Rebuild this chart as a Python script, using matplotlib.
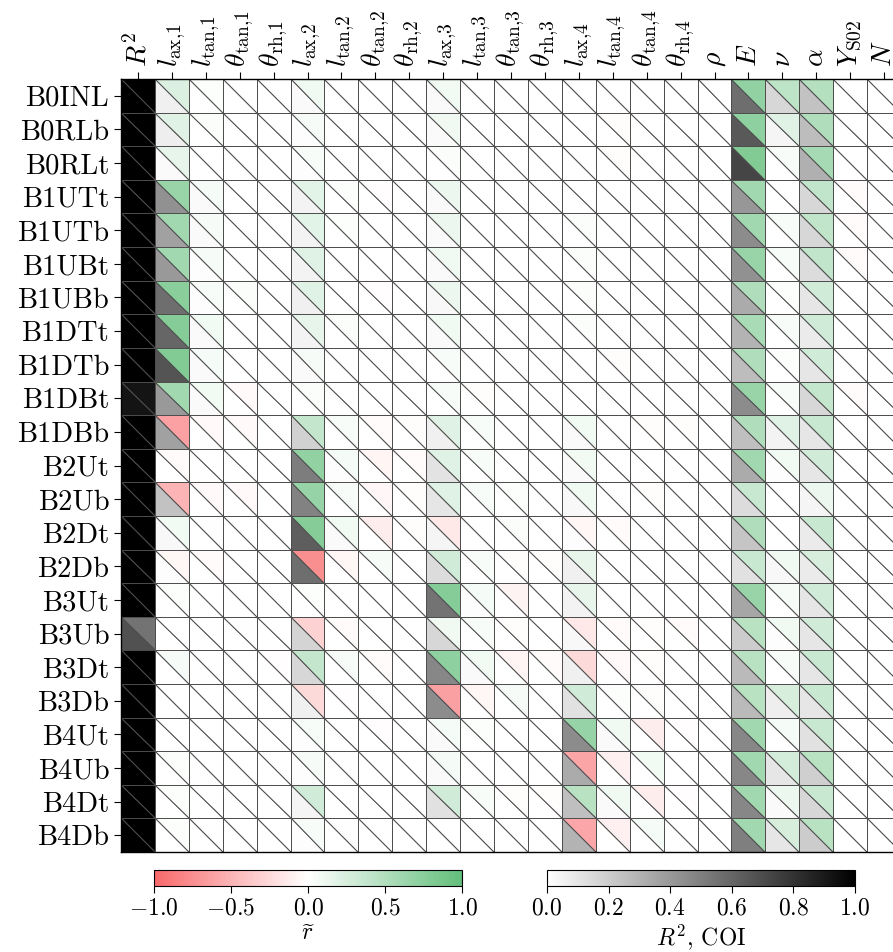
import numpy as np
import matplotlib
matplotlib.use('Agg')
import matplotlib.pyplot as plt
from matplotlib.collections import PolyCollection
from matplotlib.colors import LinearSegmentedColormap, Normalize
from matplotlib.cm import ScalarMappable

plt.rcParams['font.family'] = 'cmr10'
plt.rcParams['mathtext.fontset'] = 'cm'
plt.rcParams['axes.formatter.use_mathtext'] = True

rows = ['B0INL', 'B0RLb', 'B0RLt', 'B1UTt', 'B1UTb', 'B1UBt', 'B1UBb', 'B1DTt',
        'B1DTb', 'B1DBt', 'B1DBb', 'B2Ut', 'B2Ub', 'B2Dt', 'B2Db', 'B3Ut', 'B3Ub',
        'B3Dt', 'B3Db', 'B4Ut', 'B4Ub', 'B4Dt', 'B4Db']

cols = [r'$R^2$',
        r'$l_\mathrm{ax{,}1}$', r'$l_\mathrm{tan{,}1}$', r'$\theta_\mathrm{tan{,}1}$', r'$\theta_\mathrm{rh{,}1}$',
        r'$l_\mathrm{ax{,}2}$', r'$l_\mathrm{tan{,}2}$', r'$\theta_\mathrm{tan{,}2}$', r'$\theta_\mathrm{rh{,}2}$',
        r'$l_\mathrm{ax{,}3}$', r'$l_\mathrm{tan{,}3}$', r'$\theta_\mathrm{tan{,}3}$', r'$\theta_\mathrm{rh{,}3}$',
        r'$l_\mathrm{ax{,}4}$', r'$l_\mathrm{tan{,}4}$', r'$\theta_\mathrm{tan{,}4}$', r'$\theta_\mathrm{rh{,}4}$',
        r'$\rho$', r'$E$', r'$\nu$', r'$\alpha$', r'$Y_\mathrm{S02}$', r'$N$']

# R^2 column (upper / lower triangle)
r2_upper = [1, 1, 1, 1, 1, 1, 1, 1, 1, 0.92, 1, 1, 1, 1, 1, 1, 0.55, 1, 1, 1, 1, 1, 1]
r2_lower = [1, 1, 1, 1, 1, 1, 1, 1, 1, 0.92, 1, 1, 1, 1, 1, 1, 0.68, 1, 1, 1, 1, 1, 1]

# r tilde (upper triangles), columns l_ax,1 ... N
r_tilde = [
    [0.22, 0.02, 0, 0, 0.10, 0, 0, 0, 0.08, 0, 0, 0, 0, 0, 0, 0, 0, 0.70, 0.42, 0.48, 0, 0],
    [0.20, 0.03, 0, 0, 0.06, 0, 0, 0, 0.10, 0, 0, 0, 0, -0.02, 0, 0, 0, 0.72, 0.20, 0.50, 0, 0],
    [0.15, 0, 0, 0, 0.04, 0, 0, 0, 0.03, 0, 0, 0, 0, -0.02, 0, 0, 0, 0.80, 0.05, 0.57, 0, 0],
    [0.65, 0.07, 0, 0, 0.18, 0.02, -0.01, 0, 0.12, 0, 0, 0, 0, 0, 0, 0, 0, 0.60, 0, 0.40, -0.03, 0],
    [0.60, 0.06, 0, 0, 0.18, 0.02, 0, 0, 0.12, 0, 0, 0, 0.03, 0, 0, 0, 0, 0.60, 0.04, 0.40, -0.03, 0],
    [0.60, 0.06, 0, 0, 0.20, 0, 0, 0, 0.10, 0, 0, 0, 0.03, 0, 0, 0, 0, 0.65, 0.05, 0.40, -0.03, 0],
    [0.75, 0.05, 0.03, 0, 0.20, 0, -0.01, 0, 0.12, 0, 0, 0, 0.03, 0, 0, 0, 0, 0.50, 0.02, 0.30, 0, 0],
    [0.78, 0.08, 0, 0, 0.15, 0.03, 0, 0, 0.10, 0, 0, 0, 0.03, 0, 0, 0, 0, 0.55, 0.05, 0.30, 0, 0],
    [0.80, 0.07, 0, 0, 0.06, 0, 0, 0, 0.04, 0, 0, 0, 0, -0.02, 0, 0, 0, 0.50, 0.02, 0.30, 0, 0],
    [0.60, 0.08, -0.04, 0, 0.03, 0, 0, 0, 0.05, -0.02, 0, 0, 0, 0, 0, 0, 0, 0.65, 0.05, 0.38, -0.03, 0],
    [-0.62, -0.04, -0.04, 0, 0.38, 0.04, -0.03, -0.02, 0.20, 0.04, 0, 0, 0.08, 0, -0.02, -0.02, 0, 0.50, 0.20, 0.35, 0, 0],
    [-0.03, 0, 0, 0, 0.70, 0.07, -0.07, -0.03, 0.20, 0.04, 0, 0, 0.08, 0, 0, 0, 0, 0.60, 0.08, 0.30, 0, 0],
    [-0.50, -0.04, -0.04, 0, 0.67, 0.05, -0.05, -0.02, 0.20, 0.04, 0.02, 0, 0.10, 0, -0.02, 0, 0, 0.35, 0, 0.12, 0, 0],
    [0.08, 0.01, 0, 0, 0.78, 0.08, -0.12, -0.02, -0.15, 0, 0.03, 0, -0.06, -0.03, 0, 0, 0, 0.50, 0, 0.35, 0, 0],
    [-0.06, -0.03, 0, 0, -0.75, -0.06, 0.06, 0, 0.30, 0.05, -0.02, -0.02, 0.15, 0, 0, 0, 0, 0.35, 0.10, 0.25, 0, 0],
    [0.02, 0, 0, 0, 0.02, 0.01, 0, 0, 0.78, 0.07, -0.08, 0, 0.15, 0, 0, 0, 0, 0.65, 0.06, 0.30, 0, 0],
    [0, 0, 0.01, 0, -0.30, -0.03, 0, 0, 0.10, 0.05, -0.02, 0, -0.15, -0.03, -0.02, -0.03, 0, 0.45, 0.10, 0.30, 0, 0],
    [0.06, 0, 0, -0.01, 0.38, 0.04, -0.03, 0, 0.72, 0.08, -0.07, -0.03, -0.25, -0.04, -0.02, 0, 0, 0.45, 0.05, 0.35, 0, 0],
    [0, 0, 0, 0, -0.25, -0.01, 0, 0, -0.63, -0.06, 0.06, 0, 0.30, 0.02, -0.02, 0, 0, 0.45, 0.25, 0.35, 0, 0],
    [0, 0, 0, 0, 0.05, 0, -0.01, 0, 0.07, 0.02, 0, 0, 0.67, 0.10, -0.12, -0.01, 0, 0.60, 0.07, 0.35, 0, 0],
    [0.02, 0, 0, 0, 0.06, 0.01, 0, 0, 0.07, 0, 0, 0, -0.60, -0.10, 0.08, 0, 0, 0.60, 0.28, 0.45, 0, 0],
    [0.02, 0, 0, 0, 0.30, 0, 0, 0, 0.30, 0.04, -0.02, -0.02, 0.45, 0.10, -0.12, -0.01, 0, 0.60, 0.12, 0.35, 0, 0],
    [0.02, 0, 0, 0, 0.05, 0.01, 0, 0, 0, 0, 0, 0, -0.58, -0.10, 0.07, 0, 0, 0.60, 0.25, 0.45, 0, 0],
]

# COI (lower triangles), columns l_ax,1 ... N
coi = [
    [0.06, 0, 0, 0, 0.02, 0, 0, 0, 0.02, 0, 0, 0, 0, 0, 0, 0, 0, 0.57, 0.16, 0.24, 0, 0],
    [0.07, 0, 0, 0, 0.01, 0, 0, 0, 0.02, 0, 0, 0, 0, 0, 0, 0, 0, 0.65, 0.04, 0.26, 0, 0],
    [0.02, 0, 0, 0, 0.01, 0, 0, 0, 0, 0, 0, 0, 0, 0, 0, 0, 0, 0.73, 0, 0.31, 0, 0],
    [0.43, 0.02, 0, 0, 0.05, 0, 0, 0, 0.02, 0, 0, 0, 0, 0, 0, 0, 0, 0.41, 0, 0.16, 0, 0],
    [0.37, 0.02, 0, 0, 0.05, 0, 0, 0, 0.02, 0, 0, 0, 0, 0, 0, 0, 0, 0.45, 0, 0.16, 0, 0],
    [0.40, 0.01, 0, 0, 0.05, 0, 0, 0, 0.02, 0, 0, 0, 0, 0, 0, 0, 0, 0.43, 0, 0.14, 0, 0],
    [0.57, 0.01, 0, 0, 0.06, 0, 0, 0, 0.03, 0, 0, 0, 0, 0, 0, 0, 0, 0.33, 0, 0.10, 0, 0],
    [0.60, 0.02, 0, 0, 0.05, 0, 0, 0, 0.02, 0, 0, 0, 0, 0, 0, 0, 0, 0.30, 0, 0.08, 0, 0],
    [0.67, 0.02, 0, 0, 0.02, 0, 0, 0, 0, 0, 0, 0, 0, 0, 0, 0, 0, 0.26, 0, 0.10, 0, 0],
    [0.40, 0.02, 0, 0, 0, 0, 0, 0, 0, 0, 0, 0, 0, 0, 0, 0, 0, 0.45, 0, 0.16, 0, 0],
    [0.37, 0, 0, 0, 0.18, 0, 0, 0, 0.06, 0, 0, 0, 0.02, 0, 0, 0, 0, 0.25, 0.05, 0.10, 0, 0],
    [0, 0, 0, 0, 0.51, 0.01, 0, 0, 0.11, 0, 0, 0, 0.02, 0, 0, 0, 0, 0.33, 0.01, 0.10, 0, 0],
    [0.24, 0, 0, 0, 0.49, 0, 0, 0, 0.10, 0, 0, 0, 0.03, 0, 0, 0, 0, 0.14, 0, 0.04, 0, 0],
    [0.03, 0, 0, 0, 0.63, 0.02, 0, 0, 0.04, 0, 0, 0, 0.01, 0, 0, 0, 0, 0.23, 0, 0.08, 0, 0],
    [0.01, 0, 0, 0, 0.57, 0, 0, 0, 0.14, 0, 0, 0, 0.06, 0, 0, 0, 0, 0.12, 0.03, 0.08, 0, 0],
    [0, 0, 0, 0, 0, 0, 0, 0, 0.55, 0.01, 0, 0, 0.05, 0, 0, 0, 0, 0.35, 0, 0.10, 0, 0],
    [0, 0, 0, 0, 0.17, 0, 0, 0, 0.16, 0, 0, 0, 0.03, 0, 0, 0, 0, 0.20, 0.01, 0.10, 0, 0],
    [0, 0, 0, 0, 0.16, 0, 0, 0, 0.47, 0.02, 0, 0, 0.06, 0, 0, 0, 0, 0.27, 0, 0.10, 0, 0],
    [0, 0, 0, 0, 0.06, 0, 0, 0, 0.45, 0, 0, 0, 0.12, 0, 0, 0, 0, 0.27, 0.07, 0.10, 0, 0],
    [0, 0, 0, 0, 0.01, 0, 0, 0, 0.02, 0, 0, 0, 0.45, 0.02, 0, 0, 0, 0.47, 0, 0.12, 0, 0],
    [0, 0, 0, 0, 0.01, 0, 0, 0, 0.02, 0, 0, 0, 0.33, 0, 0, 0, 0, 0.47, 0.10, 0.19, 0, 0],
    [0, 0, 0, 0, 0.04, 0, 0, 0, 0.12, 0, 0, 0, 0.25, 0.02, 0, 0, 0, 0.47, 0.02, 0.16, 0, 0],
    [0, 0, 0, 0, 0.01, 0, 0, 0, 0, 0, 0, 0, 0.30, 0, 0, 0, 0, 0.50, 0.10, 0.20, 0, 0],
]

cmap_r = LinearSegmentedColormap.from_list('rg', ['#F8696B', '#FFFFFF', '#63BE7B'])
cmap_g = plt.get_cmap('gray_r')
norm_r = Normalize(-1, 1)
norm_g = Normalize(0, 1)

# triangles: upper-right = r tilde, lower-left = COI; R^2 column both gray
up_v, up_c, lo_v, lo_c = [], [], [], []
for i in range(len(rows)):
    for j in range(len(cols)):
        upper = [(j, i), (j + 1, i), (j + 1, i + 1)]
        lower = [(j, i), (j, i + 1), (j + 1, i + 1)]
        if j == 0:
            lo_v.append(upper); lo_c.append(r2_upper[i])
            lo_v.append(lower); lo_c.append(r2_lower[i])
        else:
            up_v.append(upper); up_c.append(r_tilde[i][j - 1])
            lo_v.append(lower); lo_c.append(coi[i][j - 1])

fig = plt.figure(figsize=(8.93, 9.52), dpi=100)
ax = fig.add_axes([0.1355, 0.105, 0.8735, 0.812])

pc_g = PolyCollection(lo_v, array=np.array(lo_c), cmap=cmap_g, norm=norm_g,
                      edgecolors='0.3', linewidths=0.7)
pc_r = PolyCollection(up_v, array=np.array(up_c), cmap=cmap_r, norm=norm_r,
                      edgecolors='0.3', linewidths=0.7)
ax.add_collection(pc_g)
ax.add_collection(pc_r)

ax.set_xlim(0, len(cols))
ax.set_ylim(len(rows), 0)
ax.set_xticks(np.arange(len(cols)) + 0.5)
ax.set_xticklabels(cols, rotation=90, fontsize=20)
ax.set_yticks(np.arange(len(rows)) + 0.5)
ax.set_yticklabels(rows, fontsize=20.5)
ax.xaxis.tick_top()
ax.tick_params(length=5, width=0.8)
for s in ax.spines.values():
    s.set_linewidth(1.0)

cax1 = fig.add_axes([0.1725, 0.0693, 0.345, 0.0168])
cb1 = fig.colorbar(ScalarMappable(norm=norm_r, cmap=cmap_r), cax=cax1, orientation='horizontal')
cb1.set_ticks([-1.0, -0.5, 0.0, 0.5, 1.0])
cb1.ax.tick_params(labelsize=17, length=5, width=0.8)
cb1.set_label(r'$\widetilde{r}$', fontsize=17, labelpad=2)

cax2 = fig.add_axes([0.6125, 0.0693, 0.345, 0.0168])
cb2 = fig.colorbar(ScalarMappable(norm=norm_g, cmap=cmap_g), cax=cax2, orientation='horizontal')
cb2.set_ticks([0.0, 0.2, 0.4, 0.6, 0.8, 1.0])
cb2.ax.tick_params(labelsize=17, length=5, width=0.8)
cb2.set_label(r'$R^2$, COI', fontsize=17, labelpad=2)

plt.savefig('out.png', dpi=100)
